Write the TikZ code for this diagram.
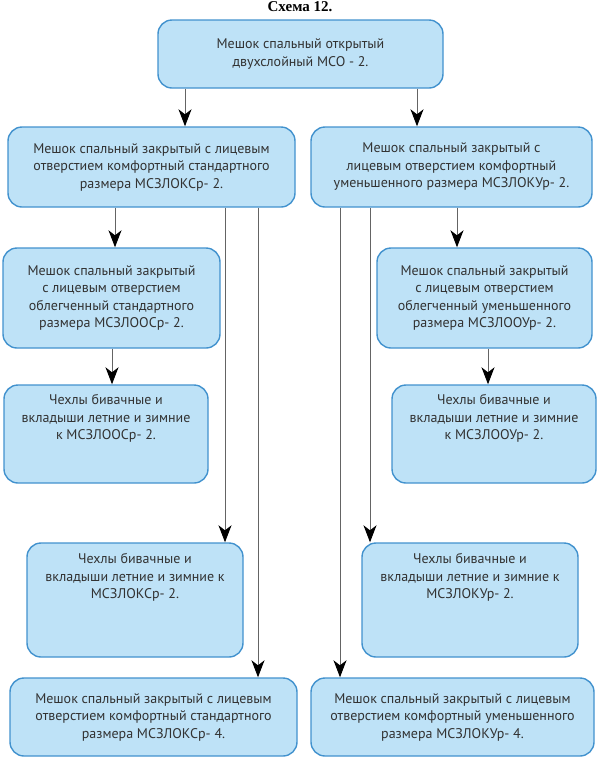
\documentclass[tikz,border=0pt]{standalone}
\usepackage{fontspec}
\setmainfont{PT Sans}
\newfontfamily\titlefont{Liberation Serif}
\usetikzlibrary{arrows.meta, positioning}
\definecolor{boxfill}{RGB}{190,226,247}
\definecolor{boxline}{RGB}{66,146,206}
\definecolor{txtgray}{RGB}{50,50,50}
\definecolor{arrgray}{RGB}{100,100,100}

\tikzset{
  box/.style={draw=boxline, fill=boxfill, line width=1.4pt, rounded corners=14pt,
    align=center, text=txtgray, inner sep=0pt, font=\fontsize{14}{17.5}\selectfont},
  boxtext/.style={align=center, text=txtgray, inner sep=0pt, font=\fontsize{14}{17.5}\selectfont},
  arr/.style={draw=arrgray, line width=1pt, -{Stealth[length=17pt,width=13pt,inset=5pt,black]}},
}

\begin{document}
\begin{tikzpicture}[x=1pt, y=-1pt]
  \useasboundingbox (0,0) rectangle (600,764);
  \node[font=\titlefont\bfseries\fontsize{15}{17}\selectfont] (title) at (300,7) {Схема 12.};
  % top
  \node[box, minimum width=285, minimum height=68] (top) at (300.5,54)
    {Мешок спальный открытый\\двухслойный МСО - 2.};
  % left column
  \node[box, minimum width=287, minimum height=80] (L1) at (151.5,167)
    {Мешок спальный закрытый с лицевым\\отверстием комфортный стандартного\\размера МСЗЛОКСр- 2.};
  \node[box, minimum width=217, minimum height=100] (L2) at (111.5,298)
    {Мешок спальный закрытый\\с лицевым отверстием\\облегченный стандартного\\размера МСЗЛООСр- 2.};
  \node[box, minimum width=204, minimum height=98] (L3) at (106,434) {};
  \node[boxtext, below=10pt of L3.north] (L3t)
    {Чехлы бивачные и\\вкладыши летние и зимние\\к МСЗЛООСр- 2.};
  \node[box, minimum width=216, minimum height=114] (L4) at (135,600) {};
  \node[boxtext, below=11pt of L4.north] (L4t)
    {Чехлы бивачные и\\вкладыши летние и зимние к\\МСЗЛОКСр- 2.};
  \node[box, minimum width=287, minimum height=78] (L5) at (153.5,717)
    {Мешок спальный закрытый с лицевым\\отверстием комфортный стандартного\\размера МСЗЛОКСр- 4.};
  % right column
  \node[box, minimum width=281, minimum height=80] (R1) at (451.5,167)
    {Мешок спальный закрытый с\\лицевым отверстием комфортный\\уменьшенного размера МСЗЛОКУр- 2.};
  \node[box, minimum width=215, minimum height=100] (R2) at (484.5,298)
    {Мешок спальный закрытый\\с лицевым отверстием\\облегченный уменьшенного\\размера МСЗЛООУр- 2.};
  \node[box, minimum width=204, minimum height=98] (R3) at (494,434) {};
  \node[boxtext, below=10pt of R3.north] (R3t)
    {Чехлы бивачные и\\вкладыши летние и зимние\\к МСЗЛООУр- 2.};
  \node[box, minimum width=216, minimum height=114] (R4) at (470,600) {};
  \node[boxtext, below=11pt of R4.north] (R4t)
    {Чехлы бивачные и\\вкладыши летние и зимние к\\МСЗЛОКУр- 2.};
  \node[box, minimum width=283, minimum height=78] (R5) at (452.5,717)
    {Мешок спальный закрытый с лицевым\\отверстием комфортный уменьшенного\\размера МСЗЛОКУр- 4.};
  % arrows
  \foreach \a/\b/\x in {top/L1/185, top/R1/417, L1/L2/115, L2/L3/112, L1/L4/225, L1/L5/258,
                        R1/R2/457, R2/R3/488, R1/R4/370, R1/R5/340}
    \draw[arr] (\a.south -| \x,0) -- (\b.north -| \x,0);
\end{tikzpicture}
\end{document}
